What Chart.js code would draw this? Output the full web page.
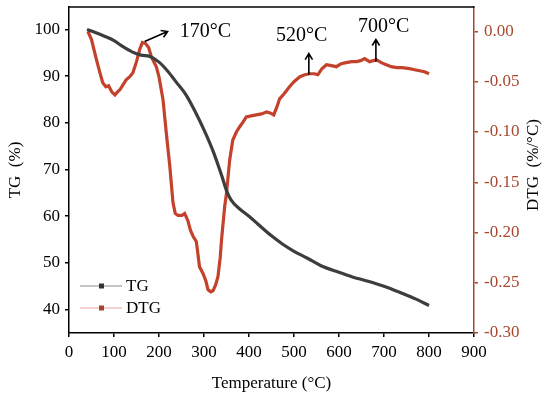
<!DOCTYPE html>
<html>
<head>
<meta charset="utf-8">
<script src="https://cdn.jsdelivr.net/npm/chart.js@4.4.0/dist/chart.umd.min.js"></script>
<style>
  html, body { margin: 0; padding: 0; background: #fff; }
</style>
</head>
<body>
<canvas id="my-chart" width="550" height="399"></canvas>
<script>
// TG curve (%)
const tgTemp = [40, 60, 80, 100, 120, 140, 160, 180, 200, 220, 240, 260, 280, 300, 320, 340, 350, 360, 380, 400, 420, 450, 475, 500, 530, 560, 600, 630, 660, 700, 740, 770, 800];
const tgValue = [100, 99.3, 98.5, 97.6, 96.3, 95.2, 94.5, 94.2, 93, 91, 88.5, 86, 82.5, 78.5, 74, 68.5, 65.5, 63.5, 61.5, 60, 58.3, 55.8, 54, 52.5, 51, 49.4, 48, 47, 46.2, 45, 43.5, 42.3, 40.9];

// DTG curve (%/°C)
const dtgTemp = [42, 50, 61, 68, 75, 82, 88, 95, 102, 108, 113, 120, 127, 135, 142, 150, 157, 163, 170, 177, 183, 194, 200, 209, 216, 224, 231, 236, 242, 251, 257, 264, 270, 276, 283, 290, 298, 304, 309, 315, 320, 326, 331, 336, 339, 346, 350, 357, 364, 372, 379, 387, 394, 405, 416, 428, 439, 447, 455, 462, 468, 478, 490, 500, 513, 524, 535, 545, 553, 562, 572, 583, 594, 605, 616, 628, 639, 648, 657, 668, 676, 683, 694, 705, 716, 728, 740, 757, 768, 779, 790, 800];
const dtgValue = [0.000, -0.008, -0.028, -0.040, -0.051, -0.055, -0.054, -0.060, -0.063, -0.060, -0.058, -0.053, -0.048, -0.045, -0.041, -0.030, -0.018, -0.011, -0.012, -0.016, -0.025, -0.035, -0.045, -0.068, -0.100, -0.134, -0.170, -0.181, -0.183, -0.183, -0.181, -0.188, -0.198, -0.204, -0.209, -0.234, -0.241, -0.248, -0.257, -0.259, -0.258, -0.252, -0.244, -0.225, -0.207, -0.174, -0.161, -0.128, -0.108, -0.100, -0.095, -0.090, -0.085, -0.084, -0.083, -0.082, -0.080, -0.081, -0.083, -0.075, -0.067, -0.062, -0.055, -0.050, -0.045, -0.043, -0.042, -0.042, -0.043, -0.037, -0.033, -0.034, -0.035, -0.032, -0.031, -0.030, -0.030, -0.029, -0.027, -0.030, -0.029, -0.028, -0.031, -0.033, -0.035, -0.036, -0.036, -0.037, -0.038, -0.039, -0.040, -0.042];

// tick labels
const xTicks = [0, 100, 200, 300, 400, 500, 600, 700, 800, 900];
const tgTicks = [40, 50, 60, 70, 80, 90, 100];
const dtgTicks = [-0.30, -0.25, -0.20, -0.15, -0.10, -0.05, 0.00];

// peak labels: [text, arrow from (T, DTG), arrow to (T, DTG), text anchor (T, DTG), align]
const peakNotes = [
  ["170°C", [168, -0.010], [219, 0.000], [246, 0.000], "left"],
  ["520°C", [533, -0.043], [533, -0.022], [517, -0.004], "center"],
  ["700°C", [682, -0.030], [682, -0.008], [699, 0.005], "center"],
];

const FONT = "'Liberation Serif', 'Times New Roman', serif";
const RED = "#c4412b";
const AXIS_RED = "#a9472f";

const arrow = (ctx, x0, y0, x1, y1) => {
  const ang = Math.atan2(y1 - y0, x1 - x0);
  const h = 7;
  ctx.beginPath();
  ctx.moveTo(x0, y0);
  ctx.lineTo(x1, y1);
  ctx.moveTo(x1 - h * Math.cos(ang - 0.55), y1 - h * Math.sin(ang - 0.55));
  ctx.lineTo(x1, y1);
  ctx.lineTo(x1 - h * Math.cos(ang + 0.55), y1 - h * Math.sin(ang + 0.55));
  ctx.stroke();
};

// frame top, right title, legend and peak notes
const extras = {
  id: "extras",
  afterDraw(chart) {
    const { ctx, chartArea: a, scales } = chart;
    const x = scales.x, y1 = scales.y1;
    ctx.save();

    ctx.strokeStyle = "#000";
    ctx.lineWidth = 1.5;
    ctx.beginPath();
    ctx.moveTo(a.left, a.top);
    ctx.lineTo(a.right + 0.5, a.top);
    ctx.stroke();

    // right axis title (reads bottom to top)
    ctx.save();
    ctx.translate(534, 165);
    ctx.rotate(-Math.PI / 2);
    ctx.fillStyle = "#000";
    ctx.font = `17px ${FONT}`;
    ctx.textAlign = "center";
    ctx.textBaseline = "middle";
    ctx.fillText("DTG  (%/°C)", 0, 0);
    ctx.restore();

    // legend
    const items = [
      { label: "TG", line: "#8a8a8a", mark: "#333333", y: 286 },
      { label: "DTG", line: "#e7a3a0", mark: "#a4462f", y: 308 },
    ];
    ctx.font = `17px ${FONT}`;
    ctx.textBaseline = "middle";
    ctx.textAlign = "left";
    items.forEach((it) => {
      ctx.strokeStyle = it.line;
      ctx.lineWidth = 1;
      ctx.beginPath();
      ctx.moveTo(80, it.y);
      ctx.lineTo(122, it.y);
      ctx.stroke();
      ctx.fillStyle = it.mark;
      ctx.fillRect(99, it.y - 2.5, 5, 5);
      ctx.fillStyle = "#000";
      ctx.fillText(it.label, 126, it.y + 1);
    });

    // peak notes
    ctx.strokeStyle = "#000";
    ctx.lineWidth = 1.6;
    ctx.fillStyle = "#000";
    ctx.font = `20px ${FONT}`;
    peakNotes.forEach(([text, from, to, at, align]) => {
      arrow(ctx,
        x.getPixelForValue(from[0]), y1.getPixelForValue(from[1]),
        x.getPixelForValue(to[0]), y1.getPixelForValue(to[1]));
      ctx.textAlign = align;
      ctx.fillText(text, x.getPixelForValue(at[0]), y1.getPixelForValue(at[1]));
    });

    ctx.restore();
  },
};

const paintChart = () => {
  const ctx = document.getElementById("my-chart").getContext("2d");
  const tickFont = { family: FONT, size: 17 };

  new Chart(ctx, {
    type: "line",
    data: {
      datasets: [
        {
          label: "TG",
          data: tgTemp.map((t, i) => ({ x: t, y: tgValue[i] })),
          yAxisID: "y",
          borderColor: "#3d3d3d",
          backgroundColor: "transparent",
          borderWidth: 3.2,
          pointRadius: 0,
          cubicInterpolationMode: "monotone",
        },
        {
          label: "DTG",
          data: dtgTemp.map((t, i) => ({ x: t, y: dtgValue[i] })),
          yAxisID: "y1",
          borderColor: RED,
          backgroundColor: "transparent",
          borderWidth: 3.2,
          pointRadius: 0,
          tension: 0,
        },
      ],
    },
    options: {
      responsive: false,
      animation: false,
      layout: { padding: { top: 7, left: 0, right: 0, bottom: 0 } },
      plugins: { legend: { display: false }, tooltip: { enabled: false } },
      scales: {
        x: {
          type: "linear",
          position: "bottom",
          min: 0,
          max: 900,
          afterBuildTicks: (s) => { s.ticks = xTicks.map((v) => ({ value: v })); },
          afterFit: (s) => { s.height = 66; s.paddingLeft = 0; s.paddingRight = 0; },
          grid: { drawOnChartArea: false, drawTicks: true, tickLength: 4, color: "#000", lineWidth: 1.5 },
          border: { color: "#000", width: 1.5 },
          ticks: { color: "#000", font: tickFont, padding: 5, maxRotation: 0, autoSkip: false },
          title: { display: true, text: "Temperature (°C)", color: "#000", font: tickFont, padding: { top: 0, bottom: 5 } },
        },
        y: {
          type: "linear",
          position: "left",
          min: 35,
          max: 104.8,
          afterBuildTicks: (s) => { s.ticks = tgTicks.map((v) => ({ value: v })); },
          afterFit: (s) => { s.width = 69; s.paddingTop = 0; s.paddingBottom = 0; },
          grid: { drawOnChartArea: false, drawTicks: true, tickLength: 4, color: "#000", lineWidth: 1.5 },
          border: { color: "#000", width: 1.5 },
          ticks: { color: "#000", font: tickFont, padding: 5, autoSkip: false },
          title: { display: true, text: "TG  (%)", color: "#000", font: tickFont, padding: { top: 5, bottom: 0 } },
        },
        y1: {
          type: "linear",
          position: "right",
          min: -0.30,
          max: 0.0244,
          afterBuildTicks: (s) => { s.ticks = dtgTicks.map((v) => ({ value: v })); },
          afterFit: (s) => { s.width = 76; s.paddingTop = 0; s.paddingBottom = 0; },
          grid: { drawOnChartArea: false, drawTicks: true, tickLength: 4, color: AXIS_RED, lineWidth: 1.5 },
          border: { color: AXIS_RED, width: 1.5 },
          ticks: { color: AXIS_RED, font: tickFont, padding: 6, autoSkip: false, callback: (v) => v.toFixed(2) },
        },
      },
    },
    plugins: [extras],
  });
};

paintChart();
</script>
</body>
</html>
